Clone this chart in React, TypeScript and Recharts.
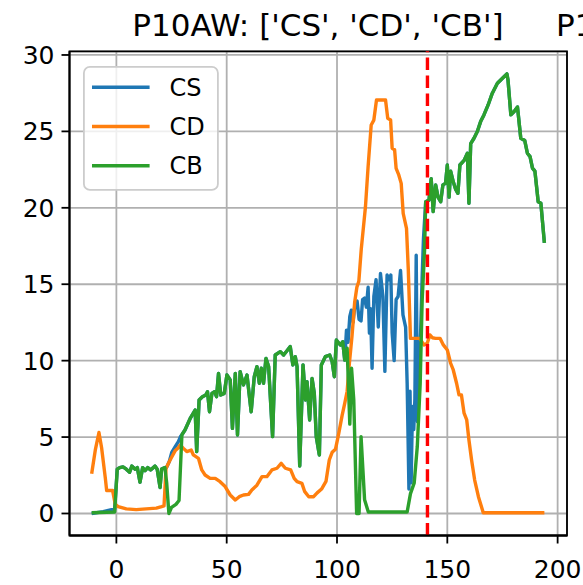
import { CartesianGrid, Legend, Line, LineChart, ReferenceArea, ReferenceLine, XAxis, YAxis } from "recharts";

// [x, value] samples
const cbPoints: [number, number][] = [
  [-11.2, 0.05], [-0.8, 0.1], [0.4, 2.9], [1.5, 3.0], [3.0, 3.05], [4.5, 2.9], [6.0, 2.7], [7.0, 3.1],
  [8.5, 2.9], [9.5, 3.0], [10.7, 2.05], [11.9, 3.0], [13.0, 2.8], [14.2, 3.0], [15.5, 2.85], [17.5, 3.1],
  [18.5, 2.9], [19.8, 1.7], [20.5, 2.9], [22.0, 3.0], [22.8, 2.0], [23.8, 0.0], [25.0, 0.4], [27.0, 0.6],
  [28.4, 0.85], [29.7, 5.15], [31.1, 5.46], [33.4, 6.2], [35.7, 6.77], [36.4, 4.05], [37.5, 7.43], [39.0, 7.64],
  [40.5, 7.75], [41.3, 7.97], [42.2, 6.66], [43.3, 7.86], [44.5, 7.97], [45.4, 7.64], [46.3, 9.17], [47.3, 7.75],
  [48.9, 7.86], [50.1, 9.06], [51.6, 8.74], [52.6, 5.57], [53.9, 9.17], [54.9, 5.14], [56.1, 9.28], [57.6, 8.41],
  [59.2, 9.06], [61.1, 6.66], [62.5, 8.95], [63.7, 9.61], [64.8, 8.52], [65.7, 9.5], [66.7, 8.52], [67.8, 10.15],
  [69.0, 9.61], [70.8, 5.03], [72.0, 10.37], [74.3, 10.59], [75.8, 10.37], [77.6, 10.7], [78.8, 10.92], [80.0, 9.72],
  [81.1, 10.26], [81.9, 9.6], [83.1, 3.11], [84.6, 9.72], [85.7, 7.43], [86.4, 8.63], [87.6, 6.12], [88.7, 8.84],
  [89.7, 7.86], [90.6, 5.03], [92.0, 3.83], [92.9, 9.72], [94.7, 10.26], [96.7, 10.37], [97.8, 9.93], [98.8, 8.95],
  [99.7, 11.35], [101.5, 11.02], [102.6, 11.24], [103.5, 10.04], [104.6, 10.81], [105.8, 5.85], [106.6, 9.5], [107.6, 7.43],
  [108.9, 0.0], [110.0, 0.0], [110.9, 5.03], [112.5, 0.9], [114.2, 0.1], [131.8, 0.1], [133.3, 1.3], [135.0, 2.0],
  [136.4, 4.4], [137.7, 8.5], [138.6, 13.97], [139.7, 17.24], [140.2, 20.4], [141.7, 20.5], [142.7, 21.9], [143.6, 19.75],
  [144.7, 21.5], [145.8, 20.7], [147.0, 20.4], [148.0, 21.5], [149.2, 21.6], [150.0, 22.8], [150.8, 20.7], [151.5, 22.4],
  [152.7, 21.7], [153.8, 21.2], [154.8, 20.95], [155.7, 22.8], [157.6, 23.1], [159.1, 23.57], [159.8, 20.3], [160.6, 24.2],
  [162.1, 24.55], [163.6, 24.99], [165.1, 25.64], [166.6, 26.08], [168.5, 26.73], [170.4, 27.5], [172.7, 28.15], [175.0, 28.48],
  [177.0, 28.76], [177.5, 28.37], [178.8, 26.08], [180.3, 26.3], [181.8, 26.6], [183.3, 24.55], [185.1, 24.4], [186.3, 23.57],
  [187.5, 23.35], [188.6, 22.6], [189.7, 22.4], [191.2, 20.4], [192.4, 20.3], [194.0, 17.7],
];

const csPoints: [number, number][] = [
  [-11.2, 0.0], [-6.0, 0.12], [-0.8, 0.3], [0.4, 2.9], [1.5, 3.0], [3.0, 3.05], [4.5, 2.9], [6.0, 2.7], [7.0, 3.1],
  [8.5, 2.9], [9.5, 3.0], [10.7, 2.05], [11.9, 3.0], [13.0, 2.8], [14.2, 3.0], [15.5, 2.85], [17.5, 3.1],
  [18.5, 2.9], [19.8, 1.7], [20.5, 2.9], [22.0, 3.0], [22.7, 3.0], [24.0, 3.4], [25.1, 4.0], [26.6, 4.35],
  [28.1, 4.7], [29.1, 5.05], [29.7, 5.15], [31.1, 5.46], [33.4, 6.2], [35.7, 6.77], [36.4, 4.05], [37.5, 7.43], [39.0, 7.64],
  [40.5, 7.75], [41.3, 7.97], [42.2, 6.66], [43.3, 7.86], [44.5, 7.97], [45.4, 7.64], [46.3, 9.17], [47.3, 7.75],
  [48.9, 7.86], [50.1, 9.06], [51.6, 8.74], [52.6, 5.57], [53.9, 9.17], [54.9, 5.14], [56.1, 9.28], [57.6, 8.41],
  [59.2, 9.06], [61.1, 6.66], [62.5, 8.95], [63.7, 9.61], [64.8, 8.52], [65.7, 9.5], [66.7, 8.52], [67.8, 10.15],
  [69.0, 9.61], [70.8, 5.03], [72.0, 10.37], [74.3, 10.59], [75.8, 10.37], [77.6, 10.7], [78.8, 10.92], [80.0, 9.72],
  [81.1, 10.26], [81.9, 9.6], [83.1, 3.11], [84.6, 9.72], [85.7, 7.43], [86.4, 8.63], [87.6, 6.12], [88.7, 8.84],
  [89.7, 7.86], [90.6, 5.03], [92.0, 3.83], [92.9, 9.72], [94.7, 10.26], [96.7, 10.37], [97.8, 9.93], [98.8, 8.95],
  [99.7, 11.35], [101.5, 11.02], [102.6, 11.24], [103.5, 10.04], [104.3, 12.0], [105.0, 11.2], [105.8, 12.9], [106.5, 13.3],
  [107.3, 12.5], [108.2, 13.8], [109.1, 13.9], [110.0, 12.7], [110.9, 12.6], [111.6, 14.0], [112.5, 14.1], [113.3, 13.5],
  [114.1, 14.8], [114.7, 11.8], [115.2, 13.4], [115.9, 9.5], [116.7, 14.2], [117.7, 15.3], [118.7, 12.2], [119.7, 15.7],
  [120.8, 14.2], [121.7, 9.3], [122.7, 15.6], [123.8, 15.3], [124.4, 15.6], [125.0, 11.8], [125.9, 10.0], [126.8, 14.0],
  [127.7, 14.2], [128.8, 15.9], [129.9, 13.0], [131.1, 12.2], [131.8, 8.5], [132.6, 1.6], [133.1, 8.0], [133.6, 2.0],
  [134.2, 7.0], [134.8, 5.5], [135.3, 7.5], [135.9, 16.9], [136.5, 6.0], [137.2, 9.5], [137.9, 11.8], [138.6, 15.5],
  [139.2, 18.0], [140.2, 20.4], [141.7, 20.5], [142.7, 21.9], [143.6, 19.75],
  [144.7, 21.5], [145.8, 20.7], [147.0, 20.4], [148.0, 21.5], [149.2, 21.6], [150.0, 22.8], [150.8, 20.7], [151.5, 22.4],
  [152.7, 21.7], [153.8, 21.2], [154.8, 20.95], [155.7, 22.8], [157.6, 23.1], [159.1, 23.57], [159.8, 20.3], [160.6, 24.2],
  [162.1, 24.55], [163.6, 24.99], [165.1, 25.64], [166.6, 26.08], [168.5, 26.73], [170.4, 27.5], [172.7, 28.15], [175.0, 28.48],
  [177.0, 28.76], [177.5, 28.37], [178.8, 26.08], [180.3, 26.3], [181.8, 26.6], [183.3, 24.55], [185.1, 24.4], [186.3, 23.57],
  [187.5, 23.35], [188.6, 22.6], [189.7, 22.4], [191.2, 20.4], [192.4, 20.3], [194.0, 17.7],
];

const cdPoints: [number, number][] = [
  [-11.2, 2.6], [-9.5, 4.2], [-7.9, 5.3], [-6.7, 4.3], [-5.0, 2.3], [-4.4, 1.5], [-1.7, 1.5], [-0.5, 0.6],
  [0.8, 0.45], [4.5, 0.3], [9.0, 0.25], [13.5, 0.3], [18.1, 0.35], [20.5, 0.45], [21.6, 0.5], [22.5, 2.96],
  [24.0, 3.4], [25.1, 3.7], [26.6, 4.1], [28.1, 4.3], [28.9, 4.48], [30.4, 4.26], [31.9, 4.05], [33.9, 4.15],
  [34.9, 3.83], [37.2, 3.61], [38.7, 2.85], [40.2, 2.52], [42.5, 2.3], [44.8, 2.3], [47.0, 2.08], [49.3, 1.76],
  [51.6, 1.21], [53.9, 0.88], [55.7, 1.1], [57.6, 1.21], [59.9, 1.25], [61.4, 1.54], [63.7, 1.85], [66.0, 2.41],
  [68.2, 2.41], [70.5, 2.85], [72.8, 2.96], [74.7, 3.28], [76.6, 2.96], [79.0, 2.85], [80.6, 2.3], [81.9, 2.08],
  [84.1, 1.97], [85.3, 1.45], [87.2, 1.1], [89.4, 1.1], [91.0, 1.35], [93.0, 1.6], [95.0, 2.1], [96.5, 3.5],
  [97.8, 4.0], [99.3, 4.2], [100.8, 5.24], [102.3, 6.4], [103.5, 7.2], [104.6, 8.0], [105.6, 9.8], [106.8, 11.6],
  [108.0, 13.8], [109.0, 14.8], [109.9, 15.2], [111.0, 17.3], [112.9, 20.07], [114.1, 22.69], [115.5, 25.42], [116.7, 25.74],
  [117.9, 27.05], [122.0, 27.05], [123.0, 25.85], [124.3, 25.74], [125.0, 23.9], [126.1, 23.8], [126.8, 22.58], [128.0, 22.15],
  [129.1, 21.6], [130.0, 19.64], [131.5, 18.66], [132.3, 16.0], [133.3, 11.46], [137.5, 11.46], [139.4, 11.03], [140.9, 11.14],
  [142.1, 11.68], [143.2, 11.5], [144.7, 11.46], [146.7, 11.46], [148.2, 11.03], [150.0, 10.7], [151.5, 9.83], [152.7, 9.39],
  [154.2, 8.52], [155.3, 7.76], [156.4, 7.76], [157.6, 6.56], [158.8, 6.12], [159.8, 4.81], [161.0, 3.5], [162.4, 2.19],
  [164.1, 1.1], [166.3, 0.05], [194.0, 0.05],
];

const series = [
  { name: "CS", color: "#1f77b4", points: csPoints },
  { name: "CD", color: "#ff7f0e", points: cdPoints },
  { name: "CB", color: "#2ca02c", points: cbPoints },
];

const xTicks = [0, 50, 100, 150, 200];
const yTicks = [0, 5, 10, 15, 20, 25, 30];
const xDomain: [number, number] = [-21.25, 204.25];
const yDomain: [number, number] = [-1.44, 30.24];
const markerX = 141;

const font = "'DejaVu Sans', sans-serif";
const tickStyle = { fill: "#000", fontSize: 25, fontFamily: font };

function LegendBox() {
  return (
    <svg width={136} height={125} style={{ display: "block" }}>
      <rect x={0.9} y={0.9} width={134} height={123} rx={6} fill="rgba(255,255,255,0.8)" stroke="#cccccc" strokeWidth={1.8} />
      {series.map((s, i) => (
        <g key={s.name}>
          <line x1={9} x2={66.6} y1={21.3 + i * 39.2} y2={21.3 + i * 39.2} stroke={s.color} strokeWidth={3.4} />
          <text x={86.6} y={21.3 + i * 39.2 + 8.6} fontSize={24} fontFamily={font} fill="#000">
            {s.name}
          </text>
        </g>
      ))}
    </svg>
  );
}

export default function App() {
  return (
    <div style={{ position: "absolute", left: 0, top: 0, width: 583, height: 585, background: "#fff", overflow: "hidden" }}>
      <svg width={583} height={50} style={{ position: "absolute", left: 0, top: 0 }}>
        <text x={318} y={36} textAnchor="middle" fontSize={31} fontFamily={font} fill="#000">
          P10AW: ['CS', 'CD', 'CB']
        </text>
        <text x={556} y={36} fontSize={31} fontFamily={font} fill="#000">
          P1
        </text>
      </svg>
      <LineChart width={583} height={585} margin={{ top: 51.3, right: 16, bottom: 0, left: 0 }}>
        <CartesianGrid stroke="#b0b0b0" strokeWidth={1.8} />
        <XAxis
          type="number"
          dataKey="x"
          domain={xDomain}
          ticks={xTicks}
          allowDataOverflow
          height={49.5}
          tickSize={8}
          tickMargin={16.5}
          tick={tickStyle}
          axisLine={{ stroke: "#000", strokeWidth: 1.8 }}
          tickLine={{ stroke: "#000", strokeWidth: 1.8 }}
        />
        <YAxis
          type="number"
          dataKey="y"
          domain={yDomain}
          ticks={yTicks}
          allowDataOverflow
          width={69.5}
          tickSize={8}
          tickMargin={7}
          tick={tickStyle}
          axisLine={{ stroke: "#000", strokeWidth: 1.8 }}
          tickLine={{ stroke: "#000", strokeWidth: 1.8 }}
        />
        <ReferenceArea x1={xDomain[0]} x2={xDomain[1]} y1={yDomain[0]} y2={yDomain[1]} fill="none" stroke="#000" strokeWidth={1.8} />
        {series.map((s) => (
          <Line
            key={s.name}
            name={s.name}
            data={s.points.map(([x, y]) => ({ x, y }))}
            dataKey="y"
            type="linear"
            stroke={s.color}
            strokeWidth={3.4}
            strokeLinejoin="round"
            dot={false}
            isAnimationActive={false}
          />
        ))}
        <ReferenceLine x={markerX} stroke="#ff0000" strokeWidth={3.4} strokeDasharray="12.5 5.4" />
        <Legend
          layout="vertical"
          align="center"
          verticalAlign="middle"
          wrapperStyle={{ left: 82.7, top: 66, width: 136, height: 125 }}
          content={() => <LegendBox />}
        />
      </LineChart>
    </div>
  );
}
